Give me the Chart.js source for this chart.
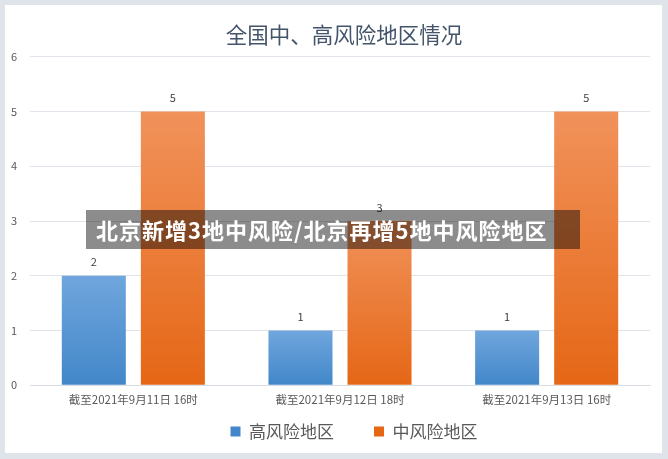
<!DOCTYPE html>
<html lang="zh">
<head>
<meta charset="UTF-8">
<title>全国中、高风险地区情况</title>
<script src="https://cdn.jsdelivr.net/npm/chart.js"></script>
<style>
    html, body { margin: 0; padding: 0; }
    body {
        width: 668px; height: 459px;
        background: #dfe3ea;
        position: relative;
        overflow: hidden;
        font-family: "Noto Sans CJK SC", sans-serif;
    }
    .card {
        position: absolute;
        left: 5px; top: 5px;
        width: 657px; height: 448px;
        background: #fff;
        overflow: hidden;
    }
    .banner {
        position: absolute;
        left: 86px; top: 210px;
        width: 494px; height: 39px;
        background: rgba(0, 0, 0, 0.45);
        color: #fff;
        font-weight: bold;
        font-size: 22px;
        line-height: 39px;
        padding-left: 10px;
        box-sizing: border-box;
        letter-spacing: 1px;
        white-space: nowrap;
    }
</style>
</head>
<body>
<div class="card">
    <canvas id="chart" width="657" height="448"></canvas>
</div>
<div class="banner">北京新增3地中风险/北京再增5地中风险地区</div>
<script>
    const categories = ['截至2021年9月11日 16时', '截至2021年9月12日 18时', '截至2021年9月13日 16时'];
    const highRisk = [2, 1, 1];
    const midRisk = [5, 3, 5];
    const yTicks = [0, 1, 2, 3, 4, 5, 6];

    const textColor = '#595959';
    const fontFamily = '"Noto Sans CJK SC", "Noto Sans", sans-serif';

    // градиент на каждый столбец, сверху светлее
    function barGradient(top, bottom) {
        return function (context) {
            const chart = context.chart;
            const y = chart.scales.y;
            if (!y || context.raw == null) return bottom;
            const yTop = y.getPixelForValue(context.raw);
            const yBase = y.getPixelForValue(0);
            if (!isFinite(yTop) || !isFinite(yBase) || yTop === yBase) return bottom;
            const g = chart.ctx.createLinearGradient(0, yTop, 0, yBase);
            g.addColorStop(0, top);
            g.addColorStop(1, bottom);
            return g;
        };
    }

    const valueLabels = {
        id: 'valueLabels',
        afterDatasetsDraw(chart) {
            const c = chart.ctx;
            c.save();
            c.font = '11px ' + fontFamily;
            c.fillStyle = '#404040';
            c.textAlign = 'center';
            c.textBaseline = 'bottom';
            chart.data.datasets.forEach((ds, i) => {
                chart.getDatasetMeta(i).data.forEach((bar, j) => {
                    c.fillText(ds.data[j], bar.x, bar.y - 8);
                });
            });
            c.restore();
        }
    };

    const chart = new Chart(document.getElementById('chart'), {
        type: 'bar',
        data: {
            labels: categories,
            datasets: [{
                label: '高风险地区',
                data: highRisk,
                backgroundColor: barGradient('#70a6dd', '#4287c9'),
                categoryPercentage: 0.765,
                barPercentage: 0.81
            }, {
                label: '中风险地区',
                data: midRisk,
                backgroundColor: barGradient('#f1925b', '#e56716'),
                categoryPercentage: 0.765,
                barPercentage: 0.81
            }]
        },
        options: {
            responsive: false,
            animation: false,
            layout: { padding: { left: 5, right: 12, top: 4, bottom: 3 } },
            plugins: {
                title: {
                    display: true,
                    text: '全国中、高风险地区情况',
                    color: '#44546a',
                    font: { family: fontFamily, size: 21.5, weight: 'normal' },
                    padding: { top: 13, bottom: 9 }
                },
                legend: {
                    position: 'bottom',
                    labels: {
                        color: textColor,
                        boxWidth: 10,
                        boxHeight: 10,
                        padding: 40,
                        font: { family: fontFamily, size: 17 }
                    }
                },
                tooltip: { enabled: false }
            },
            scales: {
                x: {
                    grid: { display: false, drawTicks: false },
                    border: { color: '#d9dde4' },
                    ticks: {
                        color: textColor,
                        padding: 8,
                        maxRotation: 0,
                        font: { family: fontFamily, size: 11.5 }
                    }
                },
                y: {
                    min: 0,
                    max: 6,
                    afterBuildTicks: axis => { axis.ticks = yTicks.map(v => ({ value: v })); },
                    afterFit: s => { s.width = 20; },
                    grid: { color: '#dfe3ea', drawTicks: false },
                    border: { display: false },
                    ticks: {
                        color: textColor,
                        padding: 13,
                        font: { family: fontFamily, size: 11 }
                    }
                }
            }
        },
        plugins: [valueLabels]
    });

    // легенда: широкие промежутки между пунктами, но без лишней высоты
    const legendShift = 32;
    const legendFit = chart.legend.fit;
    chart.legend.fit = function () {
        legendFit.call(this);
        this.height -= legendShift;
    };
    const legendDraw = chart.legend.draw;
    chart.legend.draw = function () {
        const c = this.ctx;
        c.save();
        c.translate(24, 0);
        this.top -= legendShift;
        legendDraw.call(this);
        this.top += legendShift;
        c.restore();
    };
    // заголовок немного правее центра, как в оригинале
    const titleDraw = chart.titleBlock.draw;
    chart.titleBlock.draw = function () {
        const c = this.ctx;
        c.save();
        c.translate(14, 0);
        titleDraw.call(this);
        c.restore();
    };
    chart.update();
</script>
</body>
</html>
